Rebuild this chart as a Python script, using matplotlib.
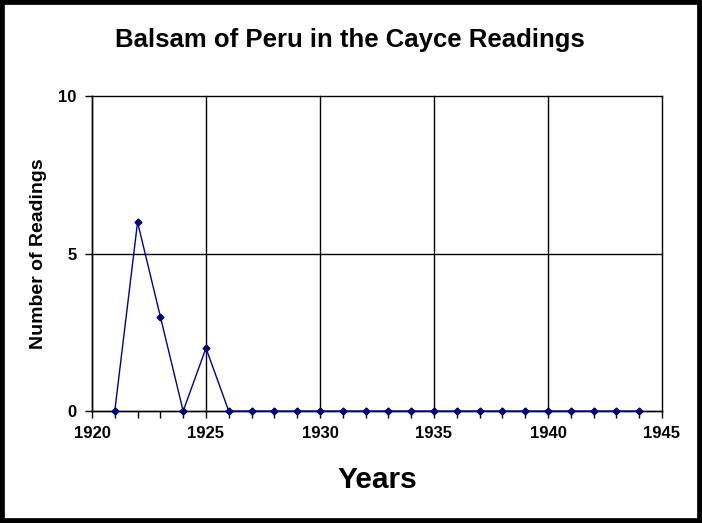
import matplotlib
matplotlib.use("Agg")
import matplotlib.pyplot as plt
from matplotlib.patches import Rectangle
from matplotlib.ticker import MultipleLocator

plt.rcParams['font.family'] = ['Liberation Sans', 'DejaVu Sans']

years = list(range(1921, 1945))
readings = [0, 6, 3, 0, 2] + [0] * 19

fig = plt.figure(figsize=(7.02, 5.23), dpi=100)
ax = fig.add_axes([0.131, 0.214, 0.812, 0.602])

ax.plot(years, readings, color='#000099', linewidth=1, marker='D', markersize=3.5,
        markerfacecolor='#000080', markeredgecolor='#000080', clip_on=False, zorder=3)

ax.set_xlim(1920, 1945)
ax.set_ylim(0, 10)
ax.xaxis.set_major_locator(MultipleLocator(5))
ax.xaxis.set_minor_locator(MultipleLocator(1))
ax.yaxis.set_major_locator(MultipleLocator(5))
ax.grid(True, which='major', color='black', linewidth=1)
for gl in ax.get_xgridlines() + ax.get_ygridlines():
    gl.set_clip_on(False)
for s in ['top', 'right']:
    ax.spines[s].set_visible(False)
for s in ['left', 'bottom']:
    ax.spines[s].set_linewidth(1)
ax.tick_params(axis='both', which='major', direction='out', length=5, width=1,
               labelsize=12, pad=6)
ax.tick_params(axis='x', which='minor', direction='out', length=5, width=1)
for lbl in ax.get_xticklabels() + ax.get_yticklabels():
    lbl.set_fontweight('bold')

ax.set_ylabel('Number of Readings', fontsize=14, fontweight='bold', labelpad=8)
ax.set_xlabel('Years', fontsize=21.5, fontweight='bold', labelpad=18)
fig.text(0.499, 0.924, 'Balsam of Peru in the Cayce Readings', ha='center', va='center',
         fontsize=18.5, fontweight='bold')

fig.patches.append(Rectangle((0, 0), 1, 1, transform=fig.transFigure, fill=False,
                             edgecolor='black', linewidth=7))

fig.savefig('out.png', dpi=100)
